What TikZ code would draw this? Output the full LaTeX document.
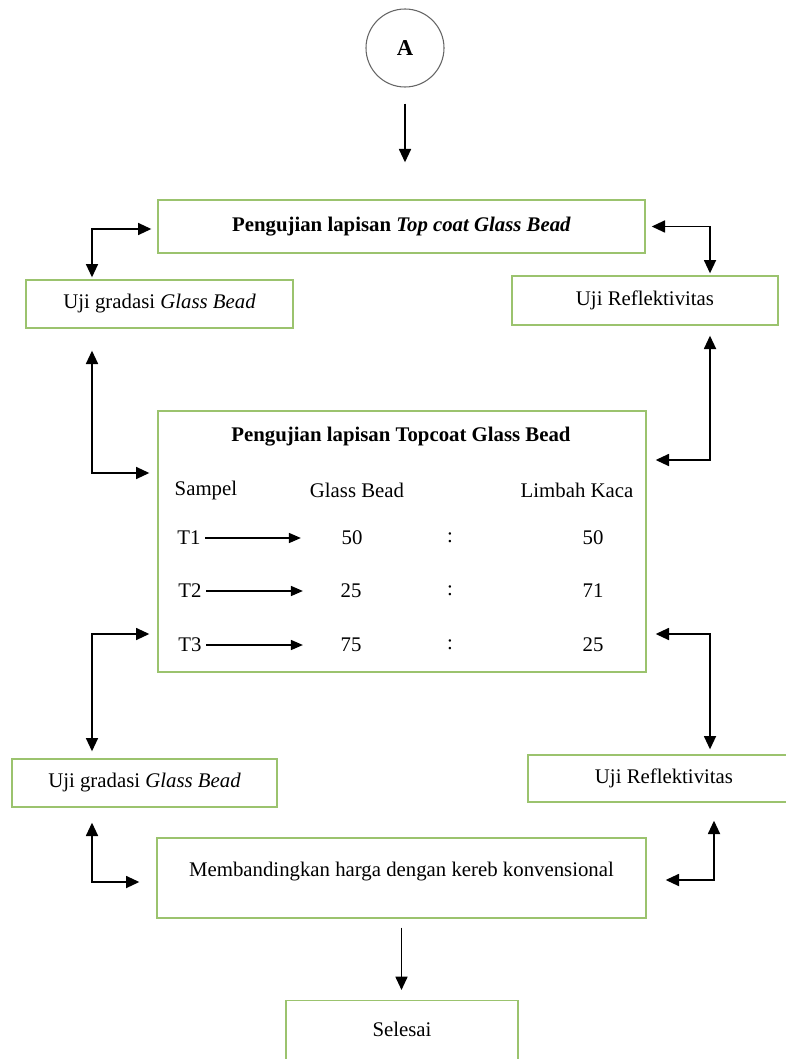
\documentclass[tikz,border=0pt]{standalone}
\usepackage{fontspec}
\setmainfont{Liberation Serif}
\usetikzlibrary{arrows.meta,calc}
\definecolor{boxgreen}{RGB}{155,195,110}

\tikzset{
  box/.style={draw=boxgreen, line width=1pt, inner sep=0pt},
  link/.style={line width=1.3pt, -{Triangle[length=10pt,width=9pt]}},
  twoway/.style={line width=1.3pt, {Triangle[length=10pt,width=9pt]}-{Triangle[length=10pt,width=9pt]}},
  rowlink/.style={line width=1.2pt, -{Triangle[length=9pt,width=7.5pt]}},
}

\begin{document}
\begin{tikzpicture}[x=0.75pt, y=-0.75pt, font=\fontsize{15.6}{18}\selectfont]
\useasboundingbox (0,0) rectangle (785,1059);

% columns for the bent connectors
\coordinate (colL) at (92,0);
\coordinate (colR) at (710,0);
\coordinate (colR2) at (714,0);

\node [draw=gray!80!black, line width=0.8pt, circle, minimum size=58.5pt, font=\fontsize{17}{18}\selectfont\bfseries] (start) at (405,48) {A};

\node [box, minimum width=365.25pt, minimum height=39.75pt] (test1) at (401.5,226.5) {\textbf{Pengujian lapisan \textit{Top coat Glass Bead}}};
\node [box, minimum width=200.25pt, minimum height=36pt] (gradA) at (159.5,304) {Uji gradasi \textit{Glass Bead}};
\node [box, minimum width=199.5pt, minimum height=36.75pt] (reflA) at (645,300.5) {Uji Reflektivitas};

\node [box, minimum width=366pt, minimum height=195.75pt] (test2) at (402,541.5) {};
\node (title) at (401,437) {\textbf{Pengujian lapisan Topcoat Glass Bead}};
\node [anchor=west] (hdrS) at (170,490) {Sampel};
\node (hdrG) at (357,490) {Glass Bead};
\node (hdrL) at (577,490) {Limbah Kaca};

\node (t1) at (189,538) {T1};
\node (g1) at (352,538) {50};
\node (c1) at (450,538) {:};
\node (l1) at (593,538) {50};
\node (t2) at (190,591) {T2};
\node (g2) at (351,591) {25};
\node (c2) at (450,591) {:};
\node (l2) at (593,591) {71};
\node (t3) at (190,645) {T3};
\node (g3) at (351,645) {75};
\node (c3) at (450,645) {:};
\node (l3) at (593,645) {25};

\node [box, minimum width=198.75pt, minimum height=36pt] (gradB) at (144.5,783) {Uji gradasi \textit{Glass Bead}};
\node [box, minimum width=204pt, minimum height=35.25pt] (reflB) at (664,778.5) {Uji Reflektivitas};
\node [box, minimum width=366.75pt, text height=28.5pt, text depth=31.5pt] (compare) at (401.5,878) {Membandingkan harga dengan kereb konvensional};
\node [box, minimum width=174pt, text height=27pt, text depth=30pt, anchor=north] (done) at (402,1000) {Selesai};

\draw [link] ($(start.south)+(0,16)$) -- ($(start.south |- test1.north)+(0,-37)$);
\draw [twoway] ($(test1.west)+(-6,2.5)$) -| ($(colL |- gradA.north)+(0,-2)$);
\draw [twoway] ($(test1.east)+(6,0)$) -| ($(colR |- reflA.north)+(0,-2)$);
\draw [twoway] ($(colL |- gradA.south)+(0,22)$) |- ($(test2.west)+(-8,-68.5)$);
\draw [twoway] ($(colR |- reflA.south)+(0,10)$) |- ($(test2.east)+(9,-81.5)$);
\draw [twoway] ($(test2.west)+(-8,92.5)$) -| ($(colL |- gradB.north)+(0,-7)$);
\draw [twoway] ($(test2.east)+(9,92.5)$) -| ($(colR |- reflB.north)+(0,-5)$);
\draw [twoway] ($(colL |- gradB.south)+(0,15)$) |- ($(compare.west)+(-17,4)$);
\draw [twoway] ($(colR2 |- reflB.south)+(0,18)$) |- ($(compare.east)+(19,2)$);
\draw [link] ($(compare.south)+(0,9)$) -- ($(compare.south |- done.north)+(0,-10)$);

\draw [rowlink] (t1) -- ($(g1.west)+(-36,0)$);
\draw [rowlink] (t2) -- ($(g2.west)+(-33,0)$);
\draw [rowlink] (t3) -- ($(g3.west)+(-33,0)$);
\end{tikzpicture}
\end{document}
